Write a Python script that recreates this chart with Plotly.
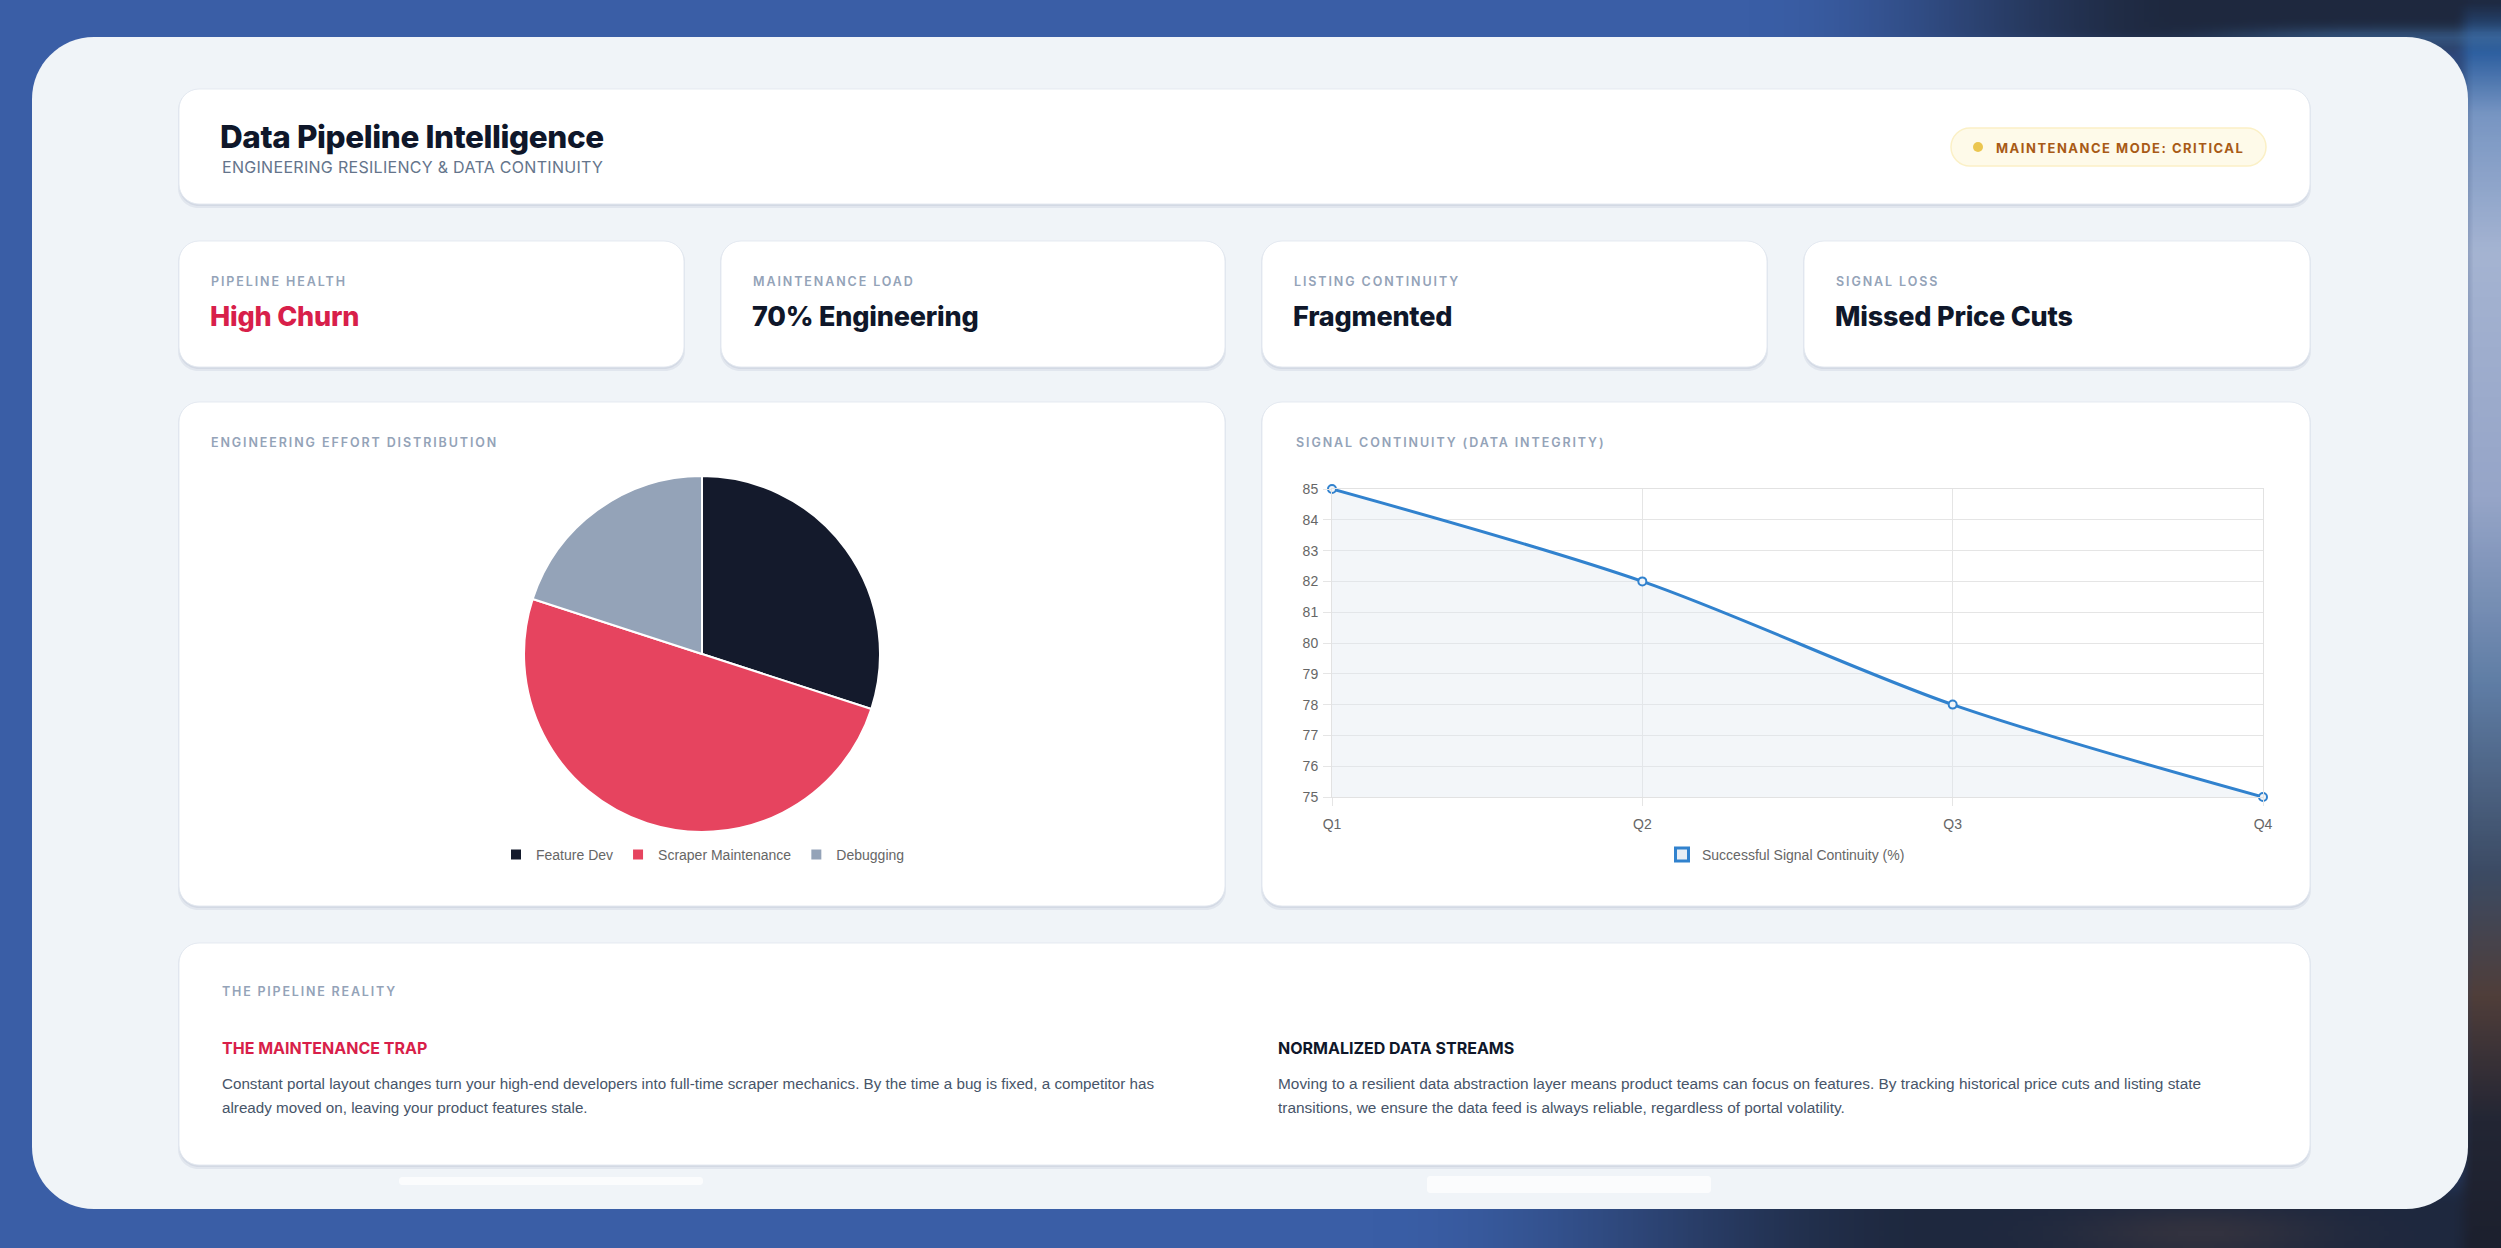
import base64
import json
import struct
import zlib

import numpy as np
import plotly.graph_objects as go

W, H = 2501, 1248

# ---------------- data ----------------
pie_labels = ["Feature Dev", "Scraper Maintenance", "Debugging"]
pie_values = [30, 50, 20]
pie_colors = ["#141a2c", "#e6445f", "#94a3b8"]

quarters = ["Q1", "Q2", "Q3", "Q4"]
continuity = [85, 82, 78, 75]
line_name = "Successful Signal Continuity (%)"

kpi_labels = ["PIPELINE HEALTH", "MAINTENANCE LOAD", "LISTING CONTINUITY", "SIGNAL LOSS"]
kpi_values = ["High Churn", "70% Engineering", "Fragmented", "Missed Price Cuts"]
kpi_colors = ["#d81f4a", "#0f172a", "#0f172a", "#0f172a"]

title_text = "Data Pipeline Intelligence"
subtitle_text = "ENGINEERING RESILIENCY & DATA CONTINUITY"
badge_text = "MAINTENANCE MODE: CRITICAL"
pie_title = "ENGINEERING EFFORT DISTRIBUTION"
line_title = "SIGNAL CONTINUITY (DATA INTEGRITY)"
reality_title = "THE PIPELINE REALITY"
left_head = "THE MAINTENANCE TRAP"
left_body = [
    "Constant portal layout changes turn your high-end developers into full-time scraper mechanics. By the time a bug is fixed, a competitor has",
    "already moved on, leaving your product features stale.",
]
right_head = "NORMALIZED DATA STREAMS"
right_body = [
    "Moving to a resilient data abstraction layer means product teams can focus on features. By tracking historical price cuts and listing state",
    "transitions, we ensure the data feed is always reliable, regardless of portal volatility.",
]


# ---------------- helpers ----------------
def px(x):
    return x / W


def py(y):
    return 1 - y / H


def rrect(x0, y0, x1, y1, r, fill, line=None, lw=0, opacity=1.0):
    k = 0.5523 * r
    pts = [
        f"M{px(x0 + r)},{py(y0)}",
        f"L{px(x1 - r)},{py(y0)}",
        f"C{px(x1 - r + k)},{py(y0)} {px(x1)},{py(y0 + r - k)} {px(x1)},{py(y0 + r)}",
        f"L{px(x1)},{py(y1 - r)}",
        f"C{px(x1)},{py(y1 - r + k)} {px(x1 - r + k)},{py(y1)} {px(x1 - r)},{py(y1)}",
        f"L{px(x0 + r)},{py(y1)}",
        f"C{px(x0 + r - k)},{py(y1)} {px(x0)},{py(y1 - r + k)} {px(x0)},{py(y1 - r)}",
        f"L{px(x0)},{py(y0 + r)}",
        f"C{px(x0)},{py(y0 + r - k)} {px(x0 + r - k)},{py(y0)} {px(x0 + r)},{py(y0)}",
        "Z",
    ]
    return dict(
        type="path", xref="paper", yref="paper", path=" ".join(pts),
        fillcolor=fill, line=dict(color=line or "rgba(0,0,0,0)", width=lw),
        layer="below", opacity=opacity,
    )


def card(x0, y0, x1, y1, r=20):
    return [
        rrect(x0 - 1, y0 + 1, x1 + 1, y1 + 4, r, "rgba(148,163,184,0.16)"),
        rrect(x0, y0, x1, y1 + 2, r, "rgba(148,163,184,0.18)"),
        rrect(x0, y0, x1, y1, r, "#ffffff", "rgba(226,232,240,0.9)", 1),
    ]


letter_spacing = {}


def text(x, y, s, size, color, family="Inter", weight=400, ls=None):
    if ls is not None:
        letter_spacing[s] = ls
    return dict(
        x=px(x), y=py(y), xref="paper", yref="paper",
        text=s.replace("&", "&amp;"), showarrow=False,
        xanchor="left", yanchor="middle", align="left",
        font=dict(family=family, size=size, color=color, weight=weight),
    )


def png_uri(arr):
    h, w, _ = arr.shape
    raw = b"".join(b"\x00" + arr[i].tobytes() for i in range(h))

    def chunk(t, d):
        return struct.pack(">I", len(d)) + t + d + struct.pack(">I", zlib.crc32(t + d) & 0xFFFFFFFF)

    data = (b"\x89PNG\r\n\x1a\n"
            + chunk(b"IHDR", struct.pack(">IIBBBBB", w, h, 8, 2, 0, 0, 0))
            + chunk(b"IDAT", zlib.compress(raw, 9))
            + chunk(b"IEND", b""))
    return "data:image/png;base64," + base64.b64encode(data).decode()


def sstep(a, b, t):
    t = np.clip((t - a) / (b - a), 0, 1)
    return t * t * (3 - 2 * t)


# ---------------- background gradient image ----------------
gw, gh = 500, 250
u = np.linspace(0, 1, gw)[None, :].repeat(gh, 0)
v = np.linspace(0, 1, gh)[:, None].repeat(gw, 1)
blue = np.array([58, 94, 166], float)
navy = np.array([30, 40, 62], float)
img = np.zeros((gh, gw, 3)) + blue
d = np.maximum(sstep(0.7, 0.88, u) * (1 - sstep(0.02, 0.06, v)),
               sstep(0.55, 0.78, u) * sstep(0.9, 0.97, v))
d = np.maximum(d, sstep(0.97, 0.99, u) * 0.6)
img = img * (1 - d[..., None]) + navy * d[..., None]
edge = sstep(0.982, 0.99, u)[..., None]
stops_v = [0.0, 0.04, 0.09, 0.2, 0.4, 0.55, 0.7, 0.8, 0.9, 1.0]
stops_c = [(30, 42, 66), (45, 95, 160), (120, 150, 195), (165, 180, 210), (150, 165, 200),
           (95, 125, 165), (60, 75, 100), (80, 62, 58), (35, 38, 52), (28, 32, 46)]
col = np.stack([np.interp(v[:, 0], stops_v, [c[i] for c in stops_c]) for i in range(3)], -1)
col = col[:, None, :].repeat(gw, 1)
img = img * (1 - edge) + col * edge
streak = sstep(0.85, 0.95, u) * np.exp(-((v - 0.028) / 0.008) ** 2) * 0.5
img = img * (1 - streak[..., None]) + np.array([70, 120, 175.0]) * streak[..., None]
glow = np.exp(-(((u - 0.88) / 0.05) ** 2 + ((v - 0.99) / 0.02) ** 2)) * 0.35
img = img * (1 - glow[..., None]) + np.array([90, 70, 65.0]) * glow[..., None]
bg_uri = png_uri(np.clip(img, 0, 255).astype(np.uint8))

# ---------------- figure ----------------
fig = go.Figure()

fig.add_trace(go.Pie(
    labels=pie_labels, values=pie_values, sort=False, direction="clockwise", rotation=0,
    marker=dict(colors=pie_colors, line=dict(color="#ffffff", width=2)),
    textinfo="none", hoverinfo="label+value",
    domain=dict(x=[px(702 - 178), px(702 + 178)], y=[py(654 + 178), py(654 - 178)]),
    legend="legend",
))

fig.add_trace(go.Scatter(
    x=quarters, y=continuity, mode="lines+markers", name=line_name,
    line=dict(color="#3182ce", width=3, shape="spline", smoothing=0.9),
    marker=dict(size=8, color="#f1f5f9", line=dict(color="#3182ce", width=2)),
    fill="tozeroy", fillcolor="rgba(226,232,240,0.4)",
    cliponaxis=False, showlegend=False, xaxis="x", yaxis="y",
))
fig.add_trace(go.Scatter(
    x=[None], y=[None], mode="markers", name=line_name,
    marker=dict(symbol="square", size=13, color="#e8eef5", line=dict(color="#3182ce", width=3)),
    showlegend=True, legend="legend2", xaxis="x", yaxis="y",
))

shapes = []
shapes.append(rrect(32, 37, 2468, 1209, 62, "#f0f4f8"))
shapes += card(179, 89, 2310, 204)
for x0, x1 in [(179, 684), (721, 1225), (1262, 1767), (1804, 2310)]:
    shapes += card(x0, 241, x1, 367)
shapes += card(179, 402, 1225, 906)
shapes += card(1262, 402, 2310, 906)
shapes += card(179, 943, 2310, 1165)
shapes.append(rrect(399, 1177, 703, 1185, 3, "rgba(255,255,255,0.7)"))
shapes.append(rrect(1427, 1176, 1711, 1193, 3, "rgba(255,255,255,0.7)"))
shapes.append(rrect(1951, 128, 2266, 166, 19, "#fefae9", "#fbf0c6", 1.5))
shapes.append(dict(type="circle", xref="paper", yref="paper",
                   x0=px(1973), x1=px(1983), y0=py(152), y1=py(142),
                   fillcolor="#ebc650", line=dict(width=0), layer="below"))

ann = []
ann.append(text(218, 136, title_text, 31.5, "#0f172a", weight=800, ls=-0.4))
ann.append(text(220, 167, subtitle_text, 16, "#64748b", ls=0.3))
ann.append(text(1994, 148, badge_text, 13, "#a85a16", weight=700, ls=1.5))
for i, x0 in enumerate([179, 721, 1262, 1804]):
    ann.append(text(x0 + 30, 282, kpi_labels[i], 12.5, "#94a3b8", weight=600, ls=1.9))
    ann.append(text(x0 + 29, 316, kpi_values[i], 27, kpi_colors[i], weight=800, ls=-0.2))
ann.append(text(209, 442, pie_title, 12.5, "#94a3b8", weight=600, ls=1.9))
ann.append(text(1294, 442, line_title, 12.5, "#94a3b8", weight=600, ls=1.9))
ann.append(text(220, 992, reality_title, 12.5, "#94a3b8", weight=600, ls=1.8))
ann.append(text(220, 1048, left_head, 16, "#d81f4a", weight=700))
ann.append(text(1276, 1048, right_head, 16, "#0f172a", weight=700))
for j, (lt, rt) in enumerate(zip(left_body, right_body)):
    ann.append(text(220, 1083 + 24 * j, lt, 15.2, "#475569", family="Liberation Sans, Arial"))
    ann.append(text(1276, 1083 + 24 * j, rt, 15.4, "#475569", family="Liberation Sans, Arial"))

fig.update_layout(
    width=W, height=H, autosize=False,
    margin=dict(l=0, r=0, t=0, b=0, pad=0, autoexpand=False),
    paper_bgcolor="#3a5ea6", plot_bgcolor="rgba(0,0,0,0)",
    images=[dict(source=bg_uri, xref="paper", yref="paper", x=0, y=1, sizex=1, sizey=1,
                 xanchor="left", yanchor="top", sizing="stretch", layer="below")],
    shapes=shapes, annotations=ann,
    font=dict(family="Liberation Sans, Arial", color="#666666", size=14),
    xaxis=dict(domain=[px(1332), px(2263)], range=[0, 3], type="category",
               showgrid=True, gridcolor="#e5e5e5", gridwidth=1, automargin=False,
               showline=True, mirror=True, linecolor="#e2e2e2", ticks="outside", ticklen=8,
               tickcolor="#e5e5e5", ticklabelstandoff=6,
               tickfont=dict(size=14, color="#666666"), zeroline=False, fixedrange=True),
    yaxis=dict(domain=[py(797), py(489)], range=[75, 85], dtick=1,
               showgrid=True, gridcolor="#e5e5e5", gridwidth=1, automargin=False,
               showline=True, mirror=True, linecolor="#e2e2e2", ticks="outside", ticklen=8,
               tickcolor="#e5e5e5", ticklabelstandoff=2,
               tickfont=dict(size=14, color="#666666"), zeroline=False, fixedrange=True),
    legend=dict(orientation="h", x=px(703), y=py(855), xanchor="center", yanchor="middle",
                font=dict(size=14, color="#666666", family="Liberation Sans, Arial"),
                bgcolor="rgba(0,0,0,0)", itemwidth=30),
    legend2=dict(orientation="h", x=px(1786), y=py(855), xanchor="center", yanchor="middle",
                 font=dict(size=14, color="#666666", family="Liberation Sans, Arial"),
                 bgcolor="rgba(0,0,0,0)", itemwidth=30),
    showlegend=True,
)

post = """
var LS = %s;
function applyLS(){
  document.querySelectorAll('.annotation-text').forEach(function(t){
    var k = t.textContent;
    if (LS.hasOwnProperty(k)) { t.style.letterSpacing = LS[k] + 'px'; }
  });
}
applyLS();
setTimeout(applyLS, 50);
setTimeout(applyLS, 300);
var gdiv = document.querySelector('.plotly-graph-div');
if (gdiv && gdiv.on) { gdiv.on('plotly_afterplot', applyLS); }
""" % json.dumps(letter_spacing)

fig.write_html("out.html", post_script=post)
